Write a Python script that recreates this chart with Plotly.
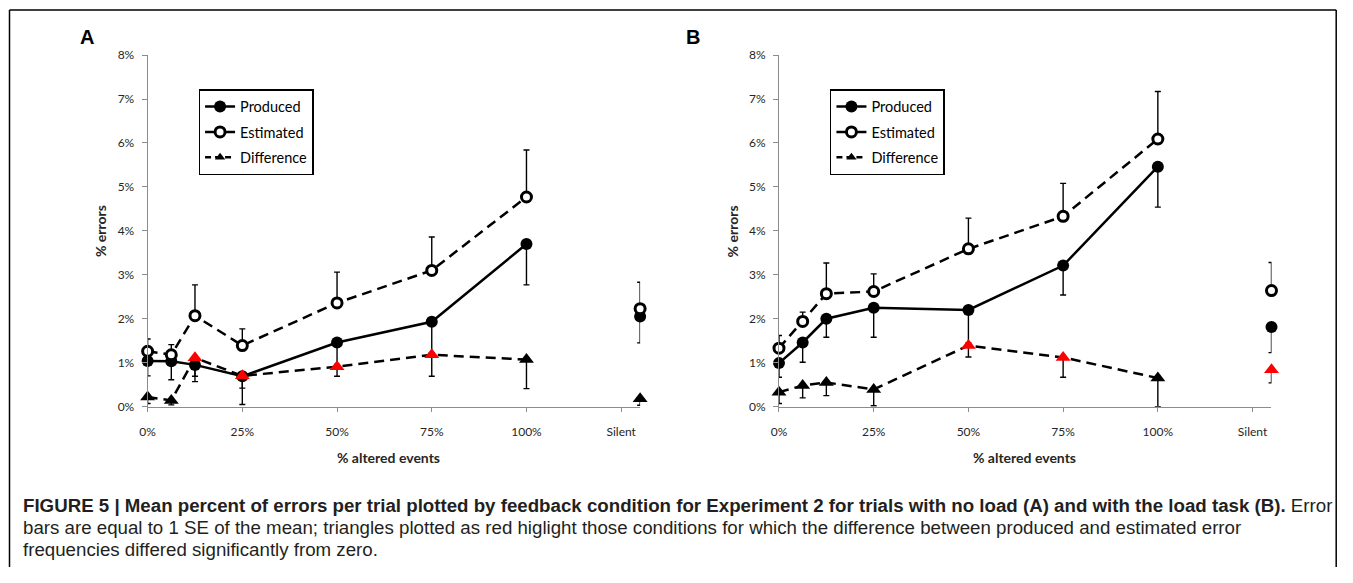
import plotly.graph_objects as go

# Figure size; the screenshot places the figure with a small offset and slight
# vertical squeeze, so target window pixels are converted with a measured mapping.
PAGE_W, PAGE_H = 1353, 583
W, H = PAGE_W - 16, PAGE_H - 16
MAP_X = (0.995, 7.25)   # window_x = a * fig_x + b
MAP_Y = (0.972, 8.0)    # window_y = a * fig_y + b

# ---------------- data ----------------
conditions = ["0%", "6.25%", "12.5%", "25%", "50%", "75%", "100%", "Silent"]
x_positions = [0, 6.25, 12.5, 25, 50, 75, 100, 130]   # Silent drawn at 130 on the axis
x_tick_vals = [0, 25, 50, 75, 100, 125]
x_tick_text = ["0%", "25%", "50%", "75%", "100%", "Silent"]
y_tick_vals = [0, 1, 2, 3, 4, 5, 6, 7, 8]
y_tick_text = ["0%", "1%", "2%", "3%", "4%", "5%", "6%", "7%", "8%"]

# Panel A: no load
A_produced = [1.04, 1.03, 0.95, 0.69, 1.46, 1.93, 3.70, 2.05]
A_produced_se = [0.34, 0.42, 0.26, 0.27, 0.50, 0.70, 0.93, 0.60]
A_estimated = [1.26, 1.18, 2.07, 1.39, 2.36, 3.10, 4.77, 2.23]
A_estimated_se = [0.28, 0.23, 0.70, 0.38, 0.70, 0.76, 1.07, 0.60]
A_difference = [0.22, 0.14, 1.11, 0.70, 0.91, 1.18, 1.07, 0.18]
A_difference_se = [0.15, 0.10, 0.54, 0.65, 0.22, 0.49, 0.66, 0.15]
A_significant = [False, False, True, True, True, True, False, False]

# Panel B: load task
B_produced = [0.99, 1.46, 2.00, 2.25, 2.20, 3.21, 5.46, 1.81]
B_produced_se = [0.32, 0.45, 0.42, 0.67, 0.75, 0.67, 0.92, 0.58]
B_estimated = [1.33, 1.94, 2.57, 2.62, 3.59, 4.33, 6.09, 2.64]
B_estimated_se = [0.29, 0.21, 0.70, 0.40, 0.70, 0.75, 1.08, 0.64]
B_difference = [0.33, 0.48, 0.55, 0.39, 1.39, 1.12, 0.65, 0.84]
B_difference_se = [0.26, 0.28, 0.30, 0.37, 0.26, 0.45, 0.65, 0.30]
B_significant = [False, False, False, False, True, True, False, True]

series_names = ["Produced", "Estimated", "Difference"]
panel_letters = ["A", "B"]
x_title = "% altered events"
y_title = "% errors"
caption_lines = [
    "<b>FIGURE 5 | Mean percent of errors per trial plotted by feedback condition for Experiment 2 for trials with no load (A) and with the load task (B).</b> Error",
    "bars are equal to 1 SE of the mean; triangles plotted as red higlight those conditions for which the difference between produced and estimated error",
    "frequencies differed significantly from zero.",
]

# ---------------- style ----------------
TICK_FONT = dict(family="Lato", size=12, color="#262626")
AXIS_GREY = "#8c8c8c"
LINE_W = 2.5
DASH = "10px,6px"
MS_FILLED = 12
MS_OPEN = 10
MS_TRI = 13
ERR = dict(color="black", thickness=1.4, width=3)


def px(x):
    """window x pixel -> paper fraction"""
    return ((x - MAP_X[1]) / MAP_X[0]) / W


def py(y):
    """window y pixel -> paper fraction"""
    return 1 - ((y - MAP_Y[1]) / MAP_Y[0]) / H


panels = [
    dict(ax="", dom=(px(147), px(640)), data=(A_produced, A_produced_se, A_estimated, A_estimated_se,
                                            A_difference, A_difference_se, A_significant),
         legend="legend", letter_x=86, xtitle_x=388, legend_x=198, ytitle_x=100),
    dict(ax="2", dom=(px(779), px(1272)), data=(B_produced, B_produced_se, B_estimated, B_estimated_se,
                                              B_difference, B_difference_se, B_significant),
         legend="legend2", letter_x=693, xtitle_x=1025, legend_x=830, ytitle_x=732),
]

fig = go.Figure()
n_line = 7  # the Silent condition is not joined to the line

for p in panels:
    xa, ya = "x" + p["ax"], "y" + p["ax"]
    prod, prod_se, est, est_se, diff, diff_se, sig = p["data"]
    diff_colors = ["#ff0000" if s else "black" for s in sig]

    def add(xs, ys, mode, line, marker, err_plus, err_minus):
        fig.add_trace(go.Scatter(
            x=xs, y=ys, mode=mode, line=line, marker=marker, xaxis=xa, yaxis=ya,
            showlegend=False, cliponaxis=False, hoverinfo="skip",
            error_y=dict(type="data", symmetric=False, array=err_plus, arrayminus=err_minus, **ERR),
        ))

    zeros = [0] * len(x_positions)
    # Produced
    add(x_positions[:n_line], prod[:n_line], "lines+markers",
        dict(color="black", width=LINE_W), dict(symbol="circle", size=MS_FILLED, color="black"),
        zeros[:n_line], prod_se[:n_line])
    add(x_positions[n_line:], prod[n_line:], "markers", None,
        dict(symbol="circle", size=MS_FILLED, color="black"), zeros[n_line:], prod_se[n_line:])
    # Estimated
    open_marker = dict(symbol="circle", size=MS_OPEN, color="white", line=dict(color="black", width=3))
    add(x_positions[:n_line], est[:n_line], "lines+markers",
        dict(color="black", width=LINE_W, dash=DASH), open_marker, est_se[:n_line], zeros[:n_line])
    add(x_positions[n_line:], est[n_line:], "markers", None, open_marker, est_se[n_line:], zeros[n_line:])
    # Difference
    add(x_positions[:n_line], diff[:n_line], "lines+markers",
        dict(color="black", width=LINE_W, dash=DASH),
        dict(symbol="triangle-up", size=MS_TRI, color=diff_colors[:n_line]),
        zeros[:n_line], diff_se[:n_line])
    add(x_positions[n_line:], diff[n_line:], "markers", None,
        dict(symbol="triangle-up", size=MS_TRI, color=diff_colors[n_line:]),
        zeros[n_line:], diff_se[n_line:])

    # legend-only entries
    leg_styles = [
        (dict(color="black", width=LINE_W), dict(symbol="circle", size=MS_FILLED, color="black")),
        (dict(color="black", width=LINE_W), open_marker),
        (dict(color="black", width=LINE_W, dash="6px,4px"), dict(symbol="triangle-up", size=9, color="black")),
    ]
    for name, (ln, mk) in zip(series_names, leg_styles):
        fig.add_trace(go.Scatter(x=[None], y=[None], name=name, mode="lines+markers", line=ln, marker=mk,
                                 xaxis=xa, yaxis=ya, legend=p["legend"], legendgroup=p["legend"] + name,
                                 showlegend=True))

axis_common = dict(showline=True, linecolor=AXIS_GREY, linewidth=1, ticks="outside", tickcolor=AXIS_GREY,
                   showgrid=False, zeroline=False, tickfont=TICK_FONT)

layout = dict(
    width=W, height=H, autosize=False, margin=dict(l=0, r=0, t=0, b=0),
    paper_bgcolor="white", plot_bgcolor="white", showlegend=True,
)
legend_common = dict(bgcolor="white", bordercolor="black", borderwidth=1.5,
                     font=dict(family="Lato", size=14.5, color="black"),
                     xanchor="left", yanchor="top", traceorder="grouped", tracegroupgap=3.5,
                     itemwidth=30)
annotations = []
for i, p in enumerate(panels):
    s = p["ax"]
    layout["xaxis" + s] = dict(domain=list(p["dom"]), range=[0, 130], anchor="y" + s, tickvals=x_tick_vals,
                               ticktext=x_tick_text, ticklen=4, ticklabelstandoff=10, **axis_common)
    layout["yaxis" + s] = dict(domain=[py(406), py(55)], range=[0, 8], anchor="x" + s, tickvals=y_tick_vals,
                               ticktext=y_tick_text, ticklen=5, ticklabelstandoff=5, **axis_common)
    layout[p["legend"]] = dict(x=px(p["legend_x"]), y=py(89), **legend_common)
    common = dict(xref="paper", yref="paper", showarrow=False, xanchor="center", yanchor="middle")
    annotations.append(dict(text=f"<b>{panel_letters[i]}</b>", x=px(p["letter_x"]), y=py(37),
                            font=dict(family="Liberation Sans", size=20, color="black"), **common))
    annotations.append(dict(text=f"<b>{x_title}</b>", x=px(p["xtitle_x"]), y=py(457),
                            font=dict(family="Lato", size=14, color="#262626"), **common))
    annotations.append(dict(text=f"<b>{y_title}</b>", x=px(p["ytitle_x"]), y=py(231),
                            textangle=-90, font=dict(family="Lato", size=14, color="#262626"), **common))

for i, line in enumerate(caption_lines):
    annotations.append(dict(text=line, x=px(20), y=py(505 + 22 * i), xref="paper", yref="paper",
                            xanchor="left", yanchor="middle", showarrow=False, align="left",
                            font=dict(family="Liberation Sans", size=18.7, color="#231f20")))

layout["annotations"] = annotations
# open frame around the figure: left, top and right sides (the bottom lies below the window)
frame = dict(type="line", xref="paper", yref="paper", line=dict(color="black", width=1.5), layer="below")
left_x, right_x, top_y = px(8.75), 0.9994, py(10)
layout["shapes"] = [
    dict(x0=left_x, x1=left_x, y0=-0.1, y1=top_y, **frame),
    dict(x0=left_x, x1=right_x, y0=top_y, y1=top_y, **frame),
    dict(x0=right_x, x1=right_x, y0=-0.1, y1=top_y, **frame),
]
fig.update_layout(**layout)

fig.write_html(
    "out.html",
    config={"displayModeBar": False},
    post_script="document.documentElement.style.margin='0';document.body.style.margin='0';",
)
